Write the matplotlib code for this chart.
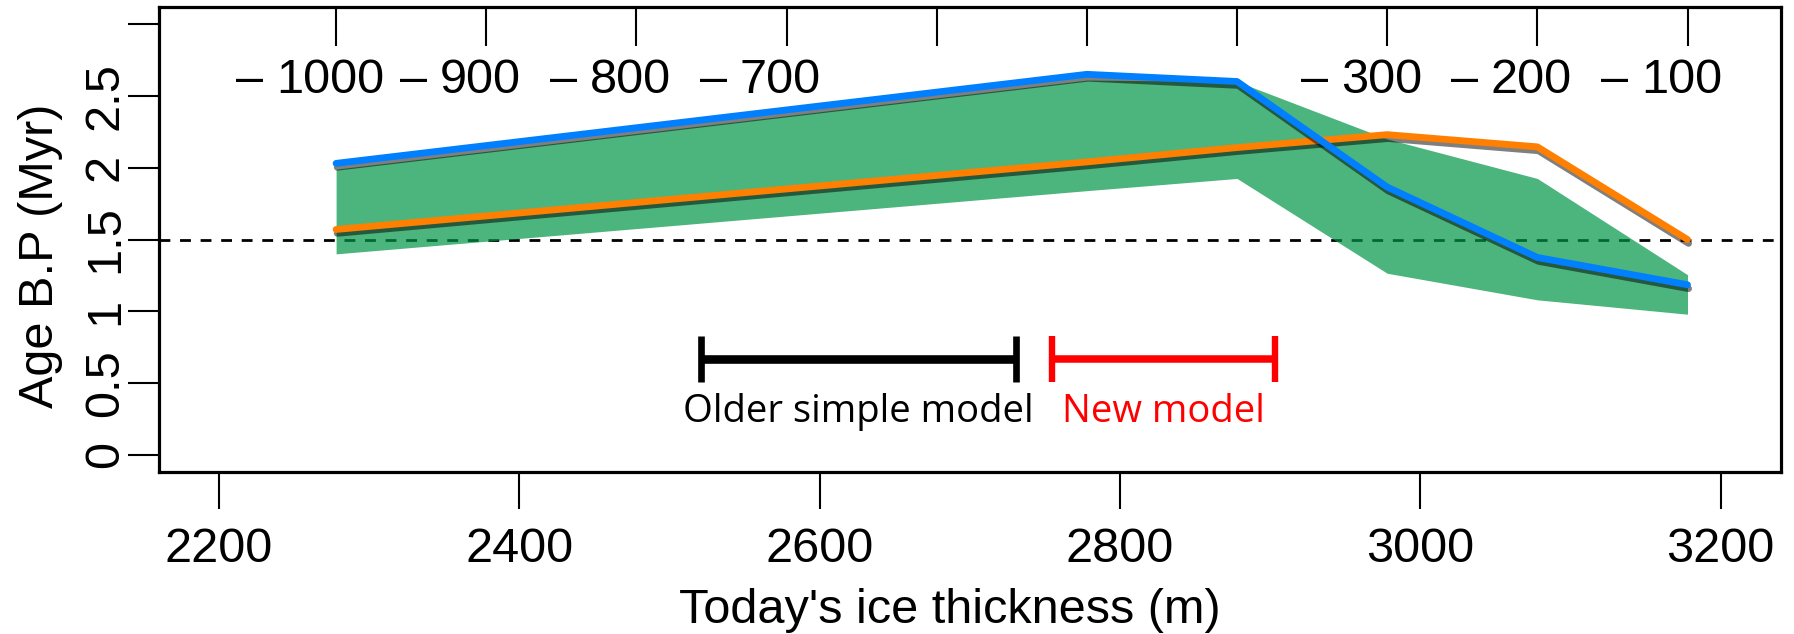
import matplotlib
matplotlib.use("Agg")
import matplotlib.pyplot as plt
import matplotlib.patheffects as pe
from matplotlib.transforms import blended_transform_factory

# Today's ice thickness (m) at each computed site
thickness = [2278, 2778, 2878, 2978, 3078, 3178]
# Spread of modelled basal ages (Myr)
envelope_upper = [1.99, 2.61, 2.60, 2.20, 1.925, 1.255]
envelope_lower = [1.40, 1.84, 1.925, 1.265, 1.08, 0.98]
# Individual model ages (Myr)
age_blue = [2.03, 2.65, 2.60, 1.865, 1.375, 1.185]
age_orange = [1.57, 2.04, 2.14, 2.23, 2.145, 1.50]

# Secondary scale: height above bedrock
total_thickness = 3278
height_above_bed = [1000, 900, 800, 700, 600, 500, 400, 300, 200, 100]
labelled_heights = [1000, 900, 800, 700, 300, 200, 100]

reference_age = 1.5
older_model_range = (2521, 2731)
new_model_range = (2755, 2903)
range_bar_age = 0.67
range_label_age = 0.228

x_ticks = [2200, 2400, 2600, 2800, 3000, 3200]
x_ticklabels = ["2200", "2400", "2600", "2800", "3000", "3200"]
y_ticks = [0, 0.5, 1, 1.5, 2, 2.5, 3]
y_ticklabels = ["0", "0.5", "1", "1.5", "2", "2.5", ""]

plt.rcParams["font.family"] = ["Liberation Sans", "DejaVu Sans"]
FS = 35

W, H = 1794, 634
fig = plt.figure(figsize=(W / 100, H / 100), dpi=100)
left, right, bottom, top = 158.9, 1780.6, 472.2, 6.8
ax = fig.add_axes([left / W, (H - bottom) / H, (right - left) / W, (bottom - top) / H])
ax.set_xlim(2160, 3240)
ax.set_ylim(-0.12, 3.12)

for s in ax.spines.values():
    s.set_linewidth(2.3)

# reference age
ax.axhline(reference_age, color="black", lw=2.0, dashes=(3.9, 3.5), zorder=1)

# envelope of model ages
ax.fill_between(thickness, envelope_lower, envelope_upper,
                color=(0, 149 / 255, 70 / 255), alpha=0.7, lw=0, zorder=2)

shadow = [pe.SimpleLineShadow(offset=(0.8, -2.8), shadow_color="black", alpha=0.5),
          pe.Normal()]
ax.plot(thickness, age_orange, color="#ff8000", lw=4.9, solid_capstyle="round",
        solid_joinstyle="round", path_effects=shadow, zorder=3)
ax.plot(thickness, age_blue, color="#0080ff", lw=4.9, solid_capstyle="round",
        solid_joinstyle="round", path_effects=shadow, zorder=4)

# model resolution ranges
for (lo, hi), col, lw, cw, name in [
        (older_model_range, "black", 6.2, 4.8, "Older simple model"),
        (new_model_range, "#ff0000", 5.4, 4.6, "New model")]:
    mid = (lo + hi) / 2
    ax.errorbar(mid, range_bar_age, xerr=(hi - lo) / 2, fmt="none", ecolor=col,
                elinewidth=lw, capsize=16.5, capthick=cw, zorder=5)
    ax.text(mid, range_label_age, name, ha="center", va="baseline", color=col,
            fontsize=27.5, family=["Open Sans", "DejaVu Sans"], zorder=5)

# bottom / left axes
ax.set_xticks(x_ticks)
ax.set_xticklabels(x_ticklabels, fontsize=FS)
ax.set_yticks(y_ticks)
ax.set_yticklabels(y_ticklabels, fontsize=FS, rotation=90, va="center", ha="right")
ax.tick_params(axis="x", length=26.6, width=1.5, pad=13.2)
ax.tick_params(axis="y", length=22.3, width=1.5, pad=0)

# top axis: height above bedrock, ticks pointing inwards
sec = ax.secondary_xaxis("top")
sec.set_xticks([total_thickness - h for h in height_above_bed])
sec.set_xticklabels([])
sec.tick_params(direction="in", length=28, width=1.5)
for s in sec.spines.values():
    s.set_visible(False)

trans = blended_transform_factory(ax.transData, ax.transAxes)
for h in labelled_heights:
    t = ax.text(total_thickness - h - 4, 0.8152, f"{h}", transform=trans,
                ha="center", va="baseline", fontsize=FS)
    ax.annotate("\u2013", xy=(0, 0), xycoords=t, xytext=(-9.3, 0),
                textcoords="offset points", ha="right", va="bottom", fontsize=FS)

ax.set_xlabel("Today's ice thickness (m)", fontsize=FS)
ax.xaxis.set_label_coords(949.7 / W, (H - 623.3) / H, transform=fig.transFigure)
ax.xaxis.label.set_va("baseline")
ax.set_ylabel("Age B.P (Myr)", fontsize=FS)
ax.yaxis.set_label_coords(53.3 / W, (H - 255.8) / H, transform=fig.transFigure)
ax.yaxis.label.set_va("baseline")

fig.savefig("out.png", dpi=100)
